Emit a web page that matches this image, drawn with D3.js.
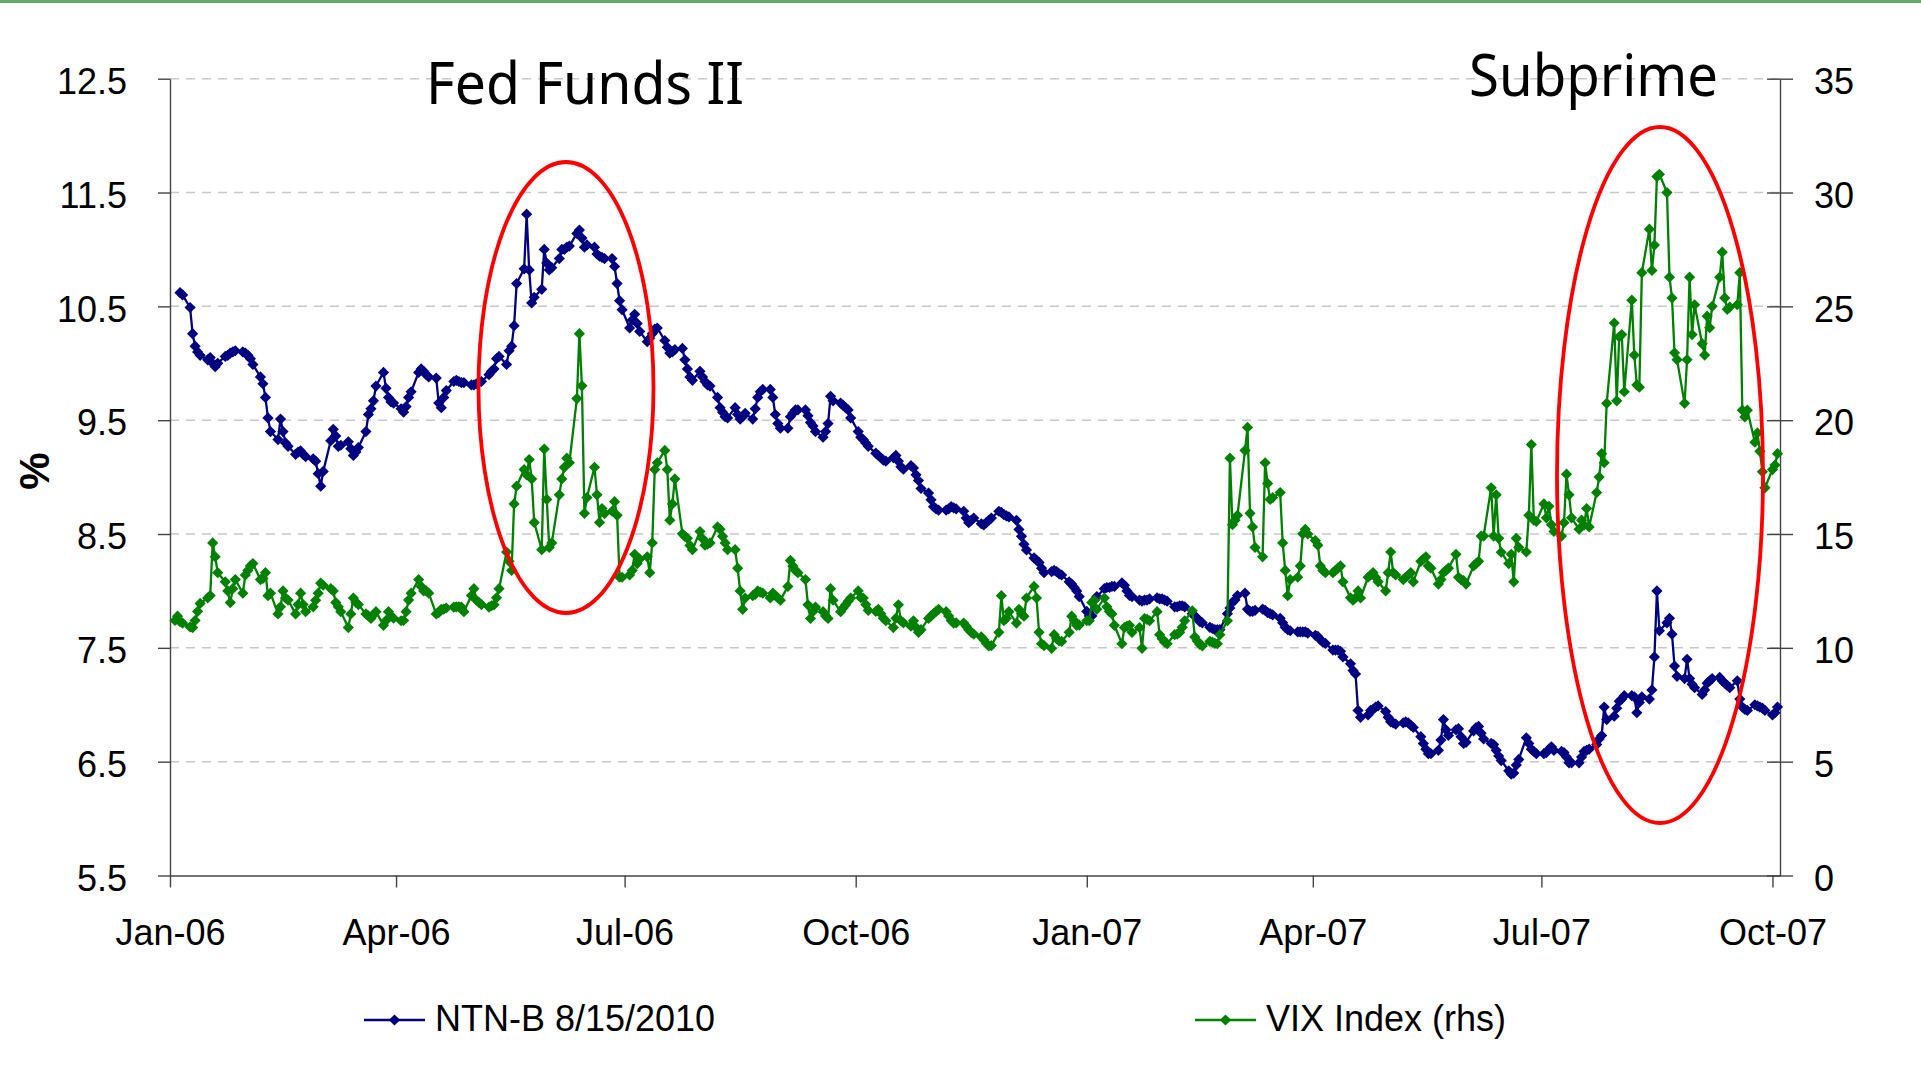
<!DOCTYPE html>
<html>
<head>
<meta charset="utf-8">
<script src="https://cdn.jsdelivr.net/npm/d3@7"></script>
<style>
  body { margin: 0; background: #fff; }
  svg { display: block; }
</style>
</head>
<body>
<div id="chartFrame"></div>
<script>
// series values, one per business day (weekly rows)
const ntnbStart = "2006-01-05";
const ntnbValues = [
  10.62, 10.60,
  10.49, 10.26, 10.15, 10.10, 10.07,
  10.03, 10.05, 10.00, 9.97, 10.00,
  10.06, 10.07, 10.09, 10.10, 10.11,
  10.10, 10.09, 10.07, 10.04, 9.99,
  9.88, 9.82, 9.70, 9.52, 9.40,
  9.33, 9.51, 9.40, 9.30, 9.27,
  9.20, 9.22, 9.23, 9.20, 9.18,
  9.16, 9.14, 9.03, 8.92, 9.05,
  9.32, 9.42, 9.36, 9.27, 9.28,
  9.31, 9.25, 9.19, 9.22, 9.26,
  9.40, 9.55, 9.60, 9.67, 9.80,
  9.92, 9.78, 9.70, 9.66, 9.65,
  9.60, 9.57, 9.62, 9.70, 9.75,
  9.92, 9.95, 9.93, 9.90, 9.88,
  9.87, 9.65, 9.61, 9.70, 9.76,
  9.84, 9.85, 9.84, 9.83, 9.83,
  9.81, 9.81, 9.82, 9.83, 9.84,
  9.90, 9.93, 9.95, 10.04, 10.06,
  9.99, 10.11, 10.15, 10.33, 10.70,
  10.83, 11.31, 10.82, 10.53, 10.58,
  10.65, 11.00, 10.88, 10.82, 10.84,
  10.92, 11.00, 11.00, 11.02, 11.03,
  11.14, 11.17, 11.10, 11.02, 11.04,
  11.02, 10.96, 10.94, 10.93, 10.92,
  10.92, 10.85, 10.70, 10.55, 10.47,
  10.31, 10.38, 10.43, 10.35, 10.28,
  10.19, 10.22, 10.26, 10.30, 10.31,
  10.20, 10.14, 10.09, 10.10, 10.12,
  10.13, 10.03, 9.95, 9.88, 9.85,
  9.93, 9.88, 9.84, 9.81, 9.80,
  9.70, 9.61, 9.57, 9.53, 9.52,
  9.61, 9.55, 9.51, 9.53, 9.56,
  9.51, 9.60, 9.70, 9.75, 9.77,
  9.77, 9.70, 9.55, 9.47, 9.43,
  9.43, 9.53, 9.56, 9.59, 9.59,
  9.59, 9.54, 9.48, 9.45, 9.40,
  9.35, 9.40, 9.47, 9.71, 9.67,
  9.65, 9.63, 9.61, 9.59, 9.52,
  9.40, 9.35, 9.33, 9.30, 9.27,
  9.21, 9.19, 9.17, 9.15, 9.14,
  9.17, 9.19, 9.14, 9.09, 9.07,
  9.10, 9.08, 9.02, 8.97, 8.90,
  8.86, 8.80, 8.74, 8.72, 8.71,
  8.71, 8.72, 8.74, 8.73, 8.72,
  8.70, 8.64, 8.60, 8.62, 8.64,
  8.59, 8.58, 8.60, 8.62, 8.64,
  8.70, 8.69, 8.67, 8.66, 8.65,
  8.62, 8.54, 8.48, 8.41, 8.36,
  8.29, 8.27, 8.25, 8.20, 8.16,
  8.17, 8.18, 8.17, 8.15, 8.14,
  8.08, 8.06, 8.03, 8.00, 7.95,
  7.82, 7.78, 7.78, 7.92, 7.95,
  8.02, 8.03, 8.03, 8.04, 8.04,
  8.07, 8.05, 8.00, 7.96, 7.95,
  7.92, 7.91, 7.92, 7.92, 7.93,
  7.94, 7.93, 7.93, 7.92, 7.91,
  7.86, 7.86, 7.87, 7.87, 7.86,
  7.80, 7.78, 7.76, 7.73, 7.72,
  7.68, 7.67, 7.66, 7.66, 7.66,
  7.80, 7.85, 7.90, 7.92, 7.96,
  7.98, 7.84, 7.82, 7.82, 7.83,
  7.84, 7.83, 7.81, 7.80, 7.79,
  7.76, 7.72, 7.68, 7.66, 7.65,
  7.64, 7.64, 7.64, 7.64, 7.63,
  7.61, 7.60, 7.57, 7.55, 7.54,
  7.48, 7.48, 7.48, 7.47, 7.42,
  7.36, 7.30, 7.27, 6.95, 6.89,
  6.91, 6.95, 6.96, 6.98, 6.99,
  6.94, 6.89, 6.85, 6.84, 6.83,
  6.84, 6.85, 6.84, 6.82, 6.80,
  6.72, 6.66, 6.61, 6.57, 6.57,
  6.60, 6.69, 6.87, 6.78, 6.73,
  6.78, 6.79, 6.72, 6.66, 6.67,
  6.77, 6.80, 6.81, 6.75, 6.70,
  6.66, 6.65, 6.60, 6.55, 6.51,
  6.42, 6.39, 6.40, 6.47, 6.52,
  6.71, 6.66, 6.61, 6.59, 6.57,
  6.57, 6.58, 6.61, 6.63, 6.60,
  6.59, 6.58, 6.54, 6.49, 6.49,
  6.49, 6.54, 6.59, 6.60, 6.61,
  6.65, 6.70, 6.73, 6.98, 6.87,
  6.90, 6.97, 7.03, 7.05, 7.08,
  7.08, 7.07, 6.93, 7.02, 7.07,
  7.05, 7.13, 7.42, 8.00, 7.65,
  7.72, 7.76, 7.62, 7.34, 7.25,
  7.23, 7.40, 7.23, 7.18, 7.15,
  7.09, 7.13, 7.19, 7.21, 7.23,
  7.24, 7.21, 7.19, 7.17, 7.15,
  7.21, 7.05, 6.98, 6.96, 6.95,
  7.00, 6.99, 6.98, 6.97, 6.95,
  6.91, 6.93, 6.98
];

const vixStart = "2006-01-03";
const vixValues = [
  11.20, 11.39, 11.15, 11.09,
  10.92, 10.89, 11.20, 11.60, 11.95,
  12.19, 12.30, 14.61, 14.00, 13.30,
  12.90, 12.50, 11.99, 12.60, 13.00,
  12.40, 13.20, 13.40, 13.60, 13.70,
  13.00, 13.05, 13.30, 12.29, 12.40,
  11.49, 11.80, 12.50, 12.19, 12.10,
  11.49, 11.90, 12.40, 11.90, 11.59,
  11.80, 12.09, 12.40, 12.84, 12.75,
  12.60, 12.50, 11.99, 11.80, 11.59,
  10.89, 11.49, 12.19, 12.00, 11.90,
  11.49, 11.40, 11.29, 11.45, 11.59,
  10.99, 11.20, 11.59, 11.40, 11.30,
  11.19, 11.20, 11.59, 12.10, 12.40,
  13.00, 12.70, 12.50, 12.50, 12.40,
  11.49, 11.55, 11.69, 11.70, 11.75,
  11.79, 11.80, 11.80, 11.79, 11.59,
  12.30, 12.60, 12.09, 12.00, 11.90,
  11.79, 11.85, 11.89, 12.20, 12.60,
  14.21, 13.80, 13.40, 16.32, 17.10,
  17.83, 17.60, 18.27, 17.42, 15.51,
  14.31, 18.73, 16.52, 14.41, 14.61,
  16.72, 17.42, 17.93, 18.33, 18.13,
  20.95, 23.80, 21.51, 15.91, 16.60,
  17.93, 16.72, 15.51, 16.12, 15.90,
  16.00, 16.42, 15.82, 13.10, 13.10,
  13.20, 13.40, 14.11, 13.70, 13.90,
  14.00, 13.30, 14.61, 17.83, 18.13,
  18.67, 17.83, 15.61, 16.32, 17.42,
  15.01, 14.90, 14.81, 14.50, 14.31,
  15.11, 14.80, 14.51, 14.55, 14.61,
  15.31, 15.21, 14.90, 14.61, 14.31,
  14.31, 13.50, 12.50, 11.69, 12.19,
  12.29, 12.35, 12.50, 12.45, 12.40,
  12.19, 12.40, 12.30, 12.20, 12.09,
  12.70, 13.84, 13.60, 13.40, 13.30,
  13.00, 11.89, 11.29, 11.60, 11.79,
  11.59, 11.40, 11.29, 12.60, 12.09,
  11.59, 11.75, 11.89, 12.05, 12.19,
  12.50, 12.20, 12.19, 11.90, 11.65,
  11.60, 11.69, 11.50, 11.30, 11.19,
  10.89, 11.30, 11.89, 11.19, 11.10,
  10.95, 11.19, 10.90, 10.68, 10.80,
  11.29, 11.40, 11.50, 11.60, 11.69,
  11.59, 11.40, 11.20, 11.09, 11.10,
  11.09, 10.95, 10.80, 10.68, 10.60,
  10.48, 10.35, 10.20, 10.08, 10.10,
  10.68, 12.29, 11.19, 11.30, 11.59,
  11.09, 11.69, 11.50, 11.39, 12.19,
  12.70, 12.19, 10.68, 10.18, 10.10,
  9.98, 10.58, 10.40, 10.30, 10.28,
  10.68, 11.39, 11.20, 10.99, 11.00,
  11.19, 11.19, 11.99, 12.09, 11.69,
  12.19, 11.80, 11.60, 11.49, 10.99,
  10.18, 10.89, 10.95, 10.99, 10.68,
  10.89, 9.98, 11.29, 11.25, 11.19,
  11.59, 10.58, 10.40, 10.25, 10.18,
  10.58, 10.60, 10.68, 10.90, 11.19,
  11.63, 10.48, 10.30, 10.15, 10.08,
  10.28, 10.25, 10.20, 10.18, 10.58,
  11.19, 18.33, 15.41, 15.60, 15.82,
  18.67, 19.68, 15.91, 15.31, 14.41,
  14.00, 18.13, 17.22, 16.52, 16.60,
  16.82, 14.61, 13.40, 12.29, 13.00,
  13.10, 13.60, 15.01, 15.21, 15.00,
  14.71, 14.51, 13.60, 13.40, 13.30,
  13.30, 13.40, 13.50, 13.60, 12.90,
  12.20, 12.09, 12.20, 12.50, 12.19,
  13.10, 13.20, 13.30, 13.10, 12.90,
  12.50, 13.30, 14.21, 13.30, 13.20,
  13.00, 13.10, 13.20, 13.30, 12.90,
  13.80, 13.90, 14.00, 13.60, 13.50,
  12.80, 13.00, 13.30, 13.40, 13.50,
  14.11, 13.10, 13.00, 12.95, 12.80,
  13.60, 13.70, 13.80, 14.91, 14.91,
  17.03, 14.91, 16.72, 14.81, 14.20,
  13.70, 14.11, 12.90, 14.81, 14.41,
  14.21, 15.82, 18.93, 15.61, 15.55,
  16.32, 15.71, 16.22, 15.41, 15.11,
  14.91, 15.50, 17.63, 16.72, 15.71,
  15.21, 15.61, 15.40, 16.12, 15.31,
  16.82, 17.50, 18.53, 18.13, 20.74,
  24.27, 20.85, 23.66, 23.76, 21.25,
  25.27, 22.86, 21.55, 21.45, 26.48,
  28.39, 26.58, 27.69, 30.70, 30.80,
  30.00, 26.28, 25.37, 22.96, 22.66,
  20.74, 22.66, 26.28, 23.76, 25.07,
  23.36, 22.86, 24.57, 24.06, 25.00,
  26.28, 27.38, 25.37, 24.87, 24.97,
  25.07, 26.48, 20.44, 20.14, 20.44,
  19.03, 19.44, 18.63, 17.73, 17.03,
  17.83, 18.03, 18.53
];

// axis ticks and labels
const leftTicks = [5.5, 6.5, 7.5, 8.5, 9.5, 10.5, 11.5, 12.5];
const rightTicks = [0, 5, 10, 15, 20, 25, 30, 35];
const xTickDates = ["2006-01-01", "2006-04-01", "2006-07-01", "2006-10-01",
                    "2007-01-01", "2007-04-01", "2007-07-01", "2007-10-01"];
const seriesNames = ["NTN-B 8/15/2010", "VIX Index (rhs)"];
const notes = ["Fed Funds II", "Subprime"];

const width = 1921, height = 1087;
const plot = { left: 170, right: 1780, top: 78.7, bottom: 875.5 };
const font = "'Liberation Sans', Arial, sans-serif";

// business days from a start date
function weekdays(start, n) {
  var out = [], d = new Date(start + "T00:00:00Z");
  while (out.length < n) {
    var wd = d.getUTCDay();
    if (wd !== 0 && wd !== 6) out.push(new Date(d));
    d.setUTCDate(d.getUTCDate() + 1);
  }
  return out;
}
const ntnbDates = weekdays(ntnbStart, ntnbValues.length);
const vixDates = weekdays(vixStart, vixValues.length);
const ntnb = ntnbValues.map((v, i) => ({ date: ntnbDates[i], value: v }));
const vix = vixValues.map((v, i) => ({ date: vixDates[i], value: v }));

var svg = d3.select("#chartFrame")
  .append("svg")
    .attr("width", width)
    .attr("height", height);

// thin green band along the top
svg.append("rect")
  .attr("x", 0).attr("y", 0)
  .attr("width", width).attr("height", 3)
  .attr("fill", "#6aa86a");

var x = d3.scaleUtc()
  .domain([new Date("2006-01-01T00:00:00Z"), new Date("2007-10-04T00:00:00Z")])
  .range([plot.left, plot.right]);

var yLeft = d3.scaleLinear().domain([5.5, 12.5]).range([plot.bottom, plot.top]);
var yRight = d3.scaleLinear().domain([0, 35]).range([plot.bottom, plot.top]);

// dashed gridlines
svg.append("g")
  .selectAll("line")
  .data(leftTicks.slice(1))
  .enter().append("line")
    .attr("x1", plot.left).attr("x2", plot.right)
    .attr("y1", d => yLeft(d)).attr("y2", d => yLeft(d))
    .attr("stroke", "#c8c8c8")
    .attr("stroke-width", 1.5)
    .attr("stroke-dasharray", "9,7");

function styleAxis(g) {
  g.selectAll("path, line").attr("stroke", "#444").attr("stroke-width", 1.4);
  g.selectAll("text")
    .attr("fill", "#000")
    .style("font-family", font)
    .style("font-size", "36px");
}

// left axis
svg.append("g")
  .attr("transform", "translate(" + plot.left + ",0)")
  .call(d3.axisLeft(yLeft).tickValues(leftTicks).tickFormat(d3.format(".1f"))
    .tickSizeInner(12).tickSizeOuter(0).tickPadding(31))
  .call(styleAxis)
  .selectAll("text").attr("dy", "0.41em");

// right axis, ticks cross the line
var rightG = svg.append("g")
  .attr("transform", "translate(" + plot.right + ",0)")
  .call(d3.axisRight(yRight).tickValues(rightTicks)
    .tickSizeInner(13).tickSizeOuter(0).tickPadding(21))
  .call(styleAxis);
rightG.selectAll("text").attr("dy", "0.41em");
rightG.selectAll(".tick line").attr("x1", -13);

// bottom axis
svg.append("g")
  .attr("transform", "translate(0," + plot.bottom + ")")
  .call(d3.axisBottom(x)
    .tickValues(xTickDates.map(d => new Date(d + "T00:00:00Z")))
    .tickFormat(d3.utcFormat("%b-%y"))
    .tickSizeInner(12).tickSizeOuter(0).tickPadding(32))
  .call(styleAxis);

// y axis title
svg.append("text")
  .attr("transform", "translate(49,471) rotate(-90)")
  .style("text-anchor", "middle")
  .style("font-family", font)
  .style("font-weight", "bold")
  .style("font-size", "42px")
  .text("%");

var diamond = "M0,-5.6L5.6,0L0,5.6L-5.6,0Z";

function drawSeries(data, yScale, color) {
  var line = d3.line()
    .x(d => x(d.date))
    .y(d => yScale(d.value));
  var g = svg.append("g");
  g.append("path")
    .datum(data)
    .attr("fill", "none")
    .attr("stroke", color)
    .attr("stroke-width", 2.3)
    .attr("d", line);
  g.selectAll("path.mk")
    .data(data)
    .enter().append("path")
      .attr("class", "mk")
      .attr("d", diamond)
      .attr("fill", color)
      .attr("transform", d => "translate(" + x(d.date) + "," + yScale(d.value) + ")");
}

drawSeries(ntnb, yLeft, "#000080");
drawSeries(vix, yRight, "#008000");

// red ellipses round the two episodes
svg.append("ellipse")
  .attr("cx", 566).attr("cy", 387.5).attr("rx", 87.5).attr("ry", 225.5)
  .attr("fill", "none").attr("stroke", "#ff0000").attr("stroke-width", 3.8);
svg.append("ellipse")
  .attr("cx", 1660).attr("cy", 475).attr("rx", 103).attr("ry", 348)
  .attr("fill", "none").attr("stroke", "#ff0000").attr("stroke-width", 3.8);

// annotations
svg.append("text")
  .attr("x", 426).attr("y", 104)
  .attr("textLength", 318).attr("lengthAdjust", "spacingAndGlyphs")
  .style("font-family", "'Noto Sans', 'Open Sans', sans-serif")
  .style("font-size", "58px")
  .text(notes[0]);
svg.append("text")
  .attr("x", 1469).attr("y", 96)
  .attr("textLength", 249).attr("lengthAdjust", "spacingAndGlyphs")
  .style("font-family", "'Noto Sans', 'Open Sans', sans-serif")
  .style("font-size", "58px")
  .text(notes[1]);

// legend
var legendItems = [
  { name: seriesNames[0], color: "#000080", x: 364 },
  { name: seriesNames[1], color: "#008000", x: 1195 }
];
var legend = svg.selectAll(".legend")
  .data(legendItems)
  .enter().append("g")
    .attr("class", "legend")
    .attr("transform", d => "translate(" + d.x + ",1020)");

legend.append("line")
  .attr("x1", 0).attr("x2", 61)
  .attr("stroke", d => d.color)
  .attr("stroke-width", 2.3);
legend.append("path")
  .attr("d", diamond)
  .attr("transform", "translate(30.5,0)")
  .attr("fill", d => d.color);
legend.append("text")
  .attr("x", 71)
  .attr("y", 11)
  .style("font-family", font)
  .style("font-size", "36px")
  .text(d => d.name);
</script>
</body>
</html>
